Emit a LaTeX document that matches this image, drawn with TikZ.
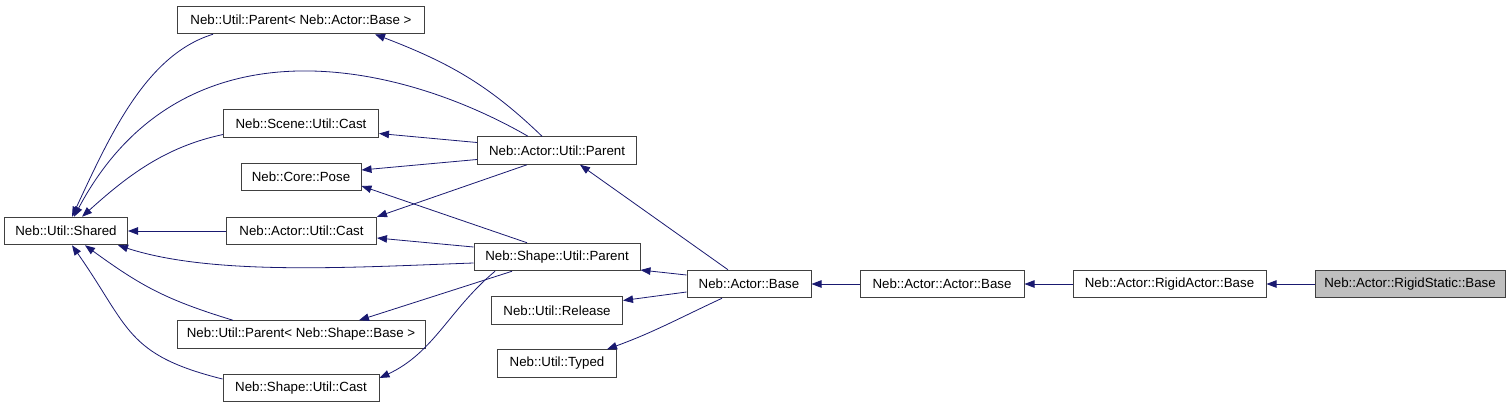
\documentclass[tikz,border=0pt]{standalone}
\usepackage{fontspec}
\setmainfont{Liberation Sans}
\usepackage{xcolor}
\usepackage{tikz}
\usetikzlibrary{arrows.meta,positioning,calc}

\definecolor{edgeblue}{HTML}{191970}
\definecolor{boxgray}{HTML}{404040}

\begin{document}
\begin{tikzpicture}[
    x=1pt, y=-1pt,
    node distance=48pt,
    block/.style={rectangle, draw=boxgray, line width=1pt, fill=white, minimum height=27.5pt, inner sep=0pt, text centered, font=\fontsize{13.3}{15}\selectfont},
    arrow/.style={-{Triangle[length=10pt,width=7.5pt]}, draw=edgeblue, line width=0.8pt}
]
\useasboundingbox (0,0) rectangle (1509,408);

% left column
\node[block, minimum width=123pt] (shared) at (66,231) {Neb::Util::Shared};
\node[block, minimum width=247pt] (pab) at (301,20) {Neb::Util::Parent< Neb::Actor::Base >};
\node[block, minimum width=155pt] (scast) at (301,123.5) {Neb::Scene::Util::Cast};
\node[block, minimum width=120pt] (pose) at (301,177) {Neb::Core::Pose};
\node[block, minimum width=150pt] (acast) at (301.5,231) {Neb::Actor::Util::Cast};
\node[block, minimum width=248pt] (psb) at (301,334.5) {Neb::Util::Parent< Neb::Shape::Base >};
\node[block, minimum width=156pt] (shcast) at (301,388) {Neb::Shape::Util::Cast};

% middle column
\node[block, minimum width=159pt] (aparent) at (557,150.5) {Neb::Actor::Util::Parent};
\node[block, minimum width=166pt] (sparent) at (557,257) {Neb::Shape::Util::Parent};
\node[block, minimum width=131pt] (release) at (557,310.5) {Neb::Util::Release};
\node[block, minimum width=119pt] (typed) at (557,363.5) {Neb::Util::Typed};

% chain
\node[block, minimum width=124pt] (abase) at (749,284) {Neb::Actor::Base};
\node[block, minimum width=164pt, right=of abase] (aabase) {Neb::Actor::Actor::Base};
\node[block, minimum width=193pt, right=of aabase] (rabase) {Neb::Actor::RigidActor::Base};
\node[block, minimum width=190pt, right=of rabase, fill=gray!50] (rsbase) {Neb::Actor::RigidStatic::Base};

\draw[arrow] (rsbase) -- (rabase);
\draw[arrow] (rabase) -- (aabase);
\draw[arrow] (aabase) -- (abase);
\draw[arrow] ([xshift=-21pt]abase.north) -- ([xshift=23pt]aparent.south);
\draw[arrow] ([yshift=9pt]abase.west) -- ([yshift=-13pt]sparent.east);
\draw[arrow] ([yshift=-8pt]abase.west) -- ([yshift=10pt]release.east);
\draw[arrow] ([xshift=-27pt]abase.south) to[out=205,in=20] ([xshift=50pt]typed.north);

\draw[arrow] ([xshift=-15pt]aparent.north) to[out=136,in=-21] ([xshift=74pt]pab.south);
\draw[arrow] ([xshift=-29pt]aparent.north) to[out=150,in=62,out distance=150pt,in distance=230pt] ([xshift=8pt]shared.north);
\draw[arrow] ([yshift=8pt]aparent.west) -- ([yshift=-10pt]scast.east);
\draw[arrow] ([yshift=-9pt]aparent.west) -- ([yshift=7pt]pose.east);
\draw[arrow] ([xshift=-30pt]aparent.south) -- (acast.north east);

\draw[arrow] ([xshift=-30pt]sparent.north) -- ([yshift=-9pt]pose.east);
\draw[arrow] ([yshift=10pt]sparent.west) -- ([yshift=-7pt]acast.east);
\draw[arrow] ([yshift=-6pt]sparent.west) to[out=182,in=-18,out distance=120pt,in distance=100pt] ([xshift=52pt]shared.south);
\draw[arrow] ([xshift=-45pt]sparent.south) -- ([xshift=58pt]psb.north);
\draw[arrow] ([xshift=-62pt]sparent.south) to[out=220,in=25,out distance=60pt,in distance=60pt] ([yshift=10pt]shcast.east);

\draw[arrow] ([xshift=-88pt]pab.south) to[out=197,in=65,out distance=70pt,in distance=90pt] ([xshift=6pt]shared.north);
\draw[arrow] ([yshift=-11pt]scast.west) to[out=192,in=42,out distance=60pt,in distance=60pt] ([xshift=16pt]shared.north);
\draw[arrow] (acast) -- (shared);
\draw[arrow] ([xshift=-68pt]psb.north) to[out=163,in=-36,out distance=70pt,in distance=70pt] ([xshift=19pt]shared.south);
\draw[arrow] ([yshift=9pt]shcast.west) to[out=166,in=-55,out distance=100pt,in distance=100pt] ([xshift=6pt]shared.south);
\end{tikzpicture}
\end{document}
